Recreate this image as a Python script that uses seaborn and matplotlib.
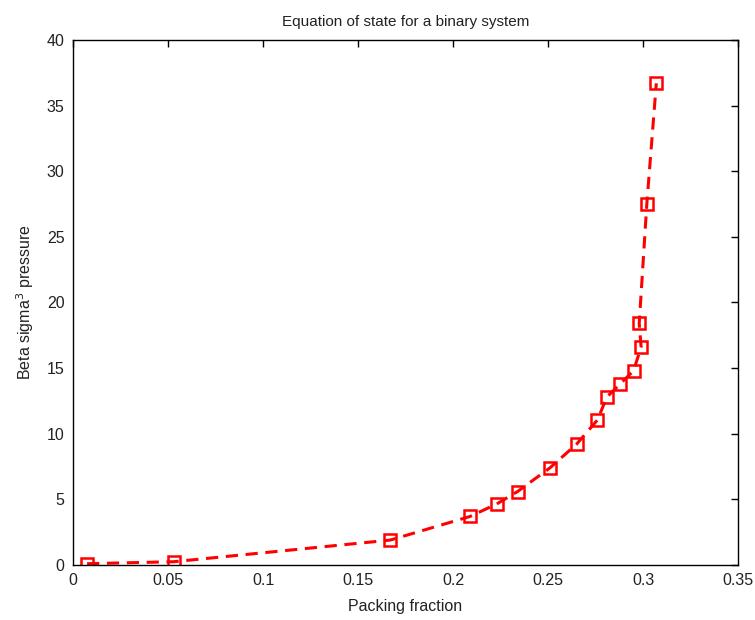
import matplotlib
matplotlib.use('Agg')
import matplotlib.pyplot as plt
import seaborn as sns
import pandas as pd

# values
packing_fraction = [0.0074, 0.053, 0.167, 0.209, 0.223, 0.234, 0.251, 0.265,
                    0.276, 0.281, 0.288, 0.295, 0.299, 0.298, 0.302, 0.307]
pressure = [0.1, 0.25, 1.9, 3.7, 4.65, 5.6, 7.4, 9.2,
            11.05, 12.8, 13.8, 14.8, 16.6, 18.4, 27.5, 36.7]

df = pd.DataFrame({'phi': packing_fraction, 'p': pressure})

sns.set_style('white')
plt.rcParams['font.family'] = ['Liberation Sans', 'DejaVu Sans']
plt.rc('text', color='#222222')
plt.rc('axes', labelcolor='#222222', linewidth=1.0, edgecolor='black')
plt.rc('xtick', direction='in', labelsize=11.5, color='#222222')
plt.rc('ytick', direction='in', labelsize=11.5, color='#222222')

fig = plt.figure(figsize=(7.55, 6.2), dpi=100)
ax = fig.add_axes([0.0967, 0.0887, 0.8808, 0.8468])

sns.lineplot(data=df, x='phi', y='p', sort=False, ax=ax, color='red',
             linestyle='--', linewidth=2.2, marker='s', markersize=8,
             markerfacecolor='none', markeredgecolor='red', markeredgewidth=1.8,
             dashes=False)
ax.lines[0].set_linestyle((0, (4, 2.5)))

ax.set_xlim(0, 0.35)
ax.set_ylim(0, 40)
ax.set_xticks([0, 0.05, 0.1, 0.15, 0.2, 0.25, 0.3, 0.35])
ax.set_xticklabels(['0', '0.05', '0.1', '0.15', '0.2', '0.25', '0.3', '0.35'])
ax.set_yticks(range(0, 41, 5))
ax.tick_params(top=True, right=True, length=5, width=1, color='black', pad=6)

ax.set_xlabel('Packing fraction', fontsize=11.5, labelpad=8)
ax.set_ylabel('Beta sigma$^3$ pressure', fontsize=11.5, labelpad=8)
ax.set_title('Equation of state for a binary system', fontsize=11, pad=10)

fig.savefig('out.png', dpi=100)
